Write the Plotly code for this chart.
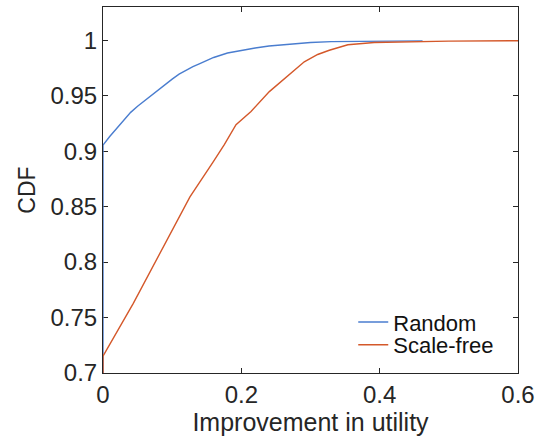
import plotly.graph_objects as go

# Random series (improvement in utility, CDF)
random_x = [0, 0, 0.01, 0.02, 0.03, 0.04, 0.05, 0.06, 0.07, 0.08, 0.09, 0.10, 0.11, 0.12, 0.13, 0.14,
            0.16, 0.18, 0.20, 0.22, 0.24, 0.27, 0.30, 0.33, 0.38, 0.462]
random_y = [0, 0.9054, 0.9135, 0.921, 0.9285, 0.935, 0.9405, 0.9455, 0.9505, 0.955, 0.960, 0.965, 0.9695, 0.973, 0.9762, 0.979,
            0.9845, 0.9885, 0.991, 0.993, 0.9948, 0.9965, 0.998, 0.9988, 0.9993, 0.9995]

# Scale-free series
sf_x = [0, 0, 0.0438, 0.0848, 0.1257, 0.1586, 0.1754, 0.1923, 0.214, 0.2405, 0.2694, 0.291, 0.3104, 0.3272,
        0.354, 0.392, 0.5, 0.6]
sf_y = [0, 0.7153, 0.7628, 0.8108, 0.8588, 0.8896, 0.906, 0.9239, 0.9358, 0.9537, 0.9687, 0.9806, 0.9872, 0.991,
        0.996, 0.998, 0.9992, 0.9996]

x_ticks = [0, 0.2, 0.4, 0.6]
x_tick_text = ["0", "0.2", "0.4", "0.6"]
y_ticks = [0.7, 0.75, 0.8, 0.85, 0.9, 0.95, 1.0]
y_tick_text = ["0.7", "0.75", "0.8", "0.85", "0.9", "0.95", "1"]

FONT = "Liberation Sans, Arial, Helvetica, sans-serif"
AX = "#262626"

fig = go.Figure()
fig.add_trace(go.Scatter(x=random_x, y=random_y, mode="lines", name="Random", legend="legend",
                         line=dict(color="#4a7dcf", width=1.4)))
fig.add_trace(go.Scatter(x=sf_x, y=sf_y, mode="lines", name="Scale-free", legend="legend2",
                         line=dict(color="#d4582a", width=1.4)))

axis_common = dict(showgrid=False, zeroline=False, showline=True, linecolor=AX, linewidth=1,
                   ticks="inside", ticklen=5, tickcolor=AX, mirror="allticks", automargin=False,
                   layer="below traces",
                   tickfont=dict(family=FONT, size=24, color=AX))

fig.update_xaxes(range=[0, 0.6], tickvals=x_ticks, ticktext=x_tick_text,
                 title=dict(text="Improvement in utility", font=dict(family=FONT, size=25, color=AX), standoff=2),
                 **axis_common)
fig.update_yaxes(range=[0.7, 1.03], tickvals=y_ticks, ticktext=y_tick_text,
                 title=dict(text="CDF", font=dict(family=FONT, size=23, color=AX), standoff=8),
                 **axis_common)

leg_common = dict(xanchor="left", yanchor="middle", bgcolor="rgba(0,0,0,0)",
                  font=dict(family=FONT, size=22, color="#111"), itemwidth=30)

fig.update_layout(
    width=536, height=437,
    margin=dict(l=103, r=18, t=7, b=64),
    plot_bgcolor="white", paper_bgcolor="white",
    font=dict(family=FONT, color="#000"),
    legend=dict(x=0.603, y=0.139, **leg_common),
    legend2=dict(x=0.603, y=0.0765, **leg_common),
    showlegend=True,
)

fig.write_html("out.html", config={"displayModeBar": False},
               post_script="document.body.style.margin='0';document.body.style.padding='0';")
